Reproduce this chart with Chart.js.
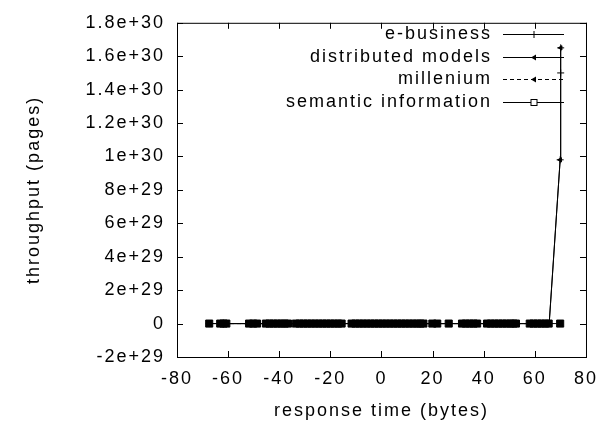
<!DOCTYPE html>
<html>
<head>
<meta charset="utf-8">
<script src="https://cdn.jsdelivr.net/npm/chart.js@4/dist/chart.umd.min.js"></script>
<style>
  body { margin: 0; background: #fff; }
  canvas { display: block; }
</style>
</head>
<body>
<canvas id="grafico" width="609" height="424"></canvas>
<script>
// Datos (aprox.)
const nombresSeries = ['e-business', 'distributed models', 'millenium', 'semantic information'];

const xEbusiness = [-67.4, -36.6, 0, 16.4, 45, 65.6, 69.9, 70.1, 70.1];
const yEbusiness = [0, 0, 0, 0, 0, 0, 9.8e29, 1.5e30, 1.65e30];

const xDistribuidos = [-61, -30, 10, 35, 60, 65.6, 69.9, 70.1];
const yDistribuidos = [0, 0, 0, 0, 0, 0, 9.8e29, 1.65e30];

const xMillenium = [-62, -40, -5, 33, 50, 64];
const yMillenium = [0, 0, 0, 0, 0, 0];

const xSemantica = [-67.4, -63.1, -61.8, -60.7, -51.8, -50.2, -48.7,
  -45.2, -43.8, -42.3, -40.8, -39.3, -37.9, -36.6,
  -33.5, -32, -30.5, -29, -27.5, -26, -24.5, -23, -21.5, -20, -18.5, -17, -15.6,
  -11.7, -10.2, -8.7, -7.2, -5.7, -4.2, -2.7, -1.2, 0.3, 1.8, 3.3, 4.8, 6.3, 7.8,
  9.3, 10.8, 12.3, 13.8, 15.2, 16.4,
  19.9, 21.8, 26.3, 31.5, 33, 34.5, 36, 37.4,
  41.3, 42.8, 44.3, 45.8, 47.3, 48.8, 50.3, 51.6, 52.6,
  58, 59.5, 61, 62.5, 64, 65.4, 69.9];
const ySemantica = xSemantica.map(() => 0);

const ticksX = [-80, -60, -40, -20, 0, 20, 40, 60, 80];
const ticksY = [-2e29, 0, 2e29, 4e29, 6e29, 8e29, 1e30, 1.2e30, 1.4e30, 1.6e30, 1.8e30];

const ESPACIADO = '2px';
const FUENTE = "'Liberation Sans', Arial, sans-serif";

function puntos(xs, ys) {
  return xs.map((x, i) => ({ x: x, y: ys[i] }));
}

Chart.defaults.font.family = FUENTE;
Chart.defaults.font.size = 18;
Chart.defaults.color = '#000';

// Estilos de la leyenda (igual que las series)
const estilosLeyenda = [
  { dash: [], marca: 'cruz' },
  { dash: [], marca: 'flecha' },
  { dash: [4, 3], marca: 'flecha' },
  { dash: [], marca: 'cuadro' }
];

function dibujarMarca(ctx, tipo, x, y) {
  ctx.beginPath();
  if (tipo === 'cruz') {
    ctx.moveTo(x, y - 3.5); ctx.lineTo(x, y + 3.5);
    ctx.moveTo(x - 3.5, y); ctx.lineTo(x + 3.5, y);
    ctx.stroke();
  } else if (tipo === 'flecha') {
    ctx.moveTo(x - 3, y); ctx.lineTo(x + 2, y - 3); ctx.lineTo(x + 2, y + 3); ctx.closePath();
    ctx.fill();
  } else {
    ctx.fillStyle = '#fff';
    ctx.fillRect(x - 3, y - 3, 6, 6);
    ctx.strokeRect(x - 3, y - 3, 6, 6);
  }
}

const marcoPlugin = {
  id: 'marco',
  beforeUpdate(chart) { chart.ctx.letterSpacing = ESPACIADO; },
  beforeLayout(chart) { chart.ctx.letterSpacing = ESPACIADO; },
  beforeDraw(chart) {
    const ctx = chart.ctx;
    ctx.letterSpacing = ESPACIADO;
    ctx.save();
    ctx.fillStyle = '#fff';
    ctx.fillRect(0, 0, chart.width, chart.height);
    ctx.restore();
  },
  afterDraw(chart) {
    const { ctx, chartArea: a, scales: { x, y } } = chart;
    ctx.save();
    ctx.strokeStyle = '#000';
    ctx.fillStyle = '#000';
    ctx.lineWidth = 1;
    ctx.strokeRect(a.left + 0.5, a.top + 0.5, a.right - a.left, a.bottom - a.top);

    // marcas de los ejes, hacia dentro y en espejo
    ctx.beginPath();
    ticksX.forEach(v => {
      const px = Math.round(x.getPixelForValue(v)) + 0.5;
      ctx.moveTo(px, a.bottom); ctx.lineTo(px, a.bottom - 6);
      ctx.moveTo(px, a.top); ctx.lineTo(px, a.top + 6);
    });
    ticksY.forEach(v => {
      const py = Math.round(y.getPixelForValue(v)) + 0.5;
      ctx.moveTo(a.left, py); ctx.lineTo(a.left + 6, py);
      ctx.moveTo(a.right, py); ctx.lineTo(a.right - 6, py);
    });
    ctx.stroke();

    // leyenda estilo gnuplot
    const filas = [34, 57, 79, 102];
    ctx.font = '18px ' + FUENTE;
    ctx.letterSpacing = ESPACIADO;
    ctx.textAlign = 'right';
    ctx.textBaseline = 'middle';
    nombresSeries.forEach((nombre, i) => {
      const fy = filas[i];
      ctx.fillStyle = '#000';
      ctx.fillText(nombre, 492, fy);
      ctx.setLineDash(estilosLeyenda[i].dash);
      ctx.beginPath();
      ctx.moveTo(503, fy + 0.5); ctx.lineTo(564, fy + 0.5);
      ctx.stroke();
      ctx.setLineDash([]);
      dibujarMarca(ctx, estilosLeyenda[i].marca, 534, fy + 0.5);
    });
    ctx.restore();
  }
};

const ctx = document.getElementById('grafico').getContext('2d');

new Chart(ctx, {
  type: 'scatter',
  data: {
    datasets: [
      {
        label: nombresSeries[0],
        data: puntos(xEbusiness, yEbusiness),
        showLine: true,
        borderColor: '#000',
        borderWidth: 1,
        pointStyle: 'cross',
        pointRadius: 3.5,
        pointBorderColor: '#000',
        pointBorderWidth: 1
      },
      {
        label: nombresSeries[1],
        data: puntos(xDistribuidos, yDistribuidos),
        showLine: true,
        borderColor: '#000',
        borderWidth: 1,
        pointStyle: 'triangle',
        rotation: 270,
        pointRadius: 2.5,
        pointBackgroundColor: '#000',
        pointBorderColor: '#000',
        pointBorderWidth: 1
      },
      {
        label: nombresSeries[2],
        data: puntos(xMillenium, yMillenium),
        showLine: true,
        borderColor: '#000',
        borderWidth: 1,
        borderDash: [4, 3],
        pointStyle: 'triangle',
        rotation: 270,
        pointRadius: 2.5,
        pointBackgroundColor: '#000',
        pointBorderColor: '#000',
        pointBorderWidth: 1
      },
      {
        label: nombresSeries[3],
        data: puntos(xSemantica, ySemantica),
        showLine: true,
        borderColor: '#000',
        borderWidth: 1,
        pointStyle: 'rect',
        pointRadius: 5,
        pointBackgroundColor: '#000',
        pointBorderColor: '#000',
        pointBorderWidth: 1
      }
    ]
  },
  options: {
    responsive: false,
    animation: false,
    layout: { padding: { left: 0, right: 20, top: 17, bottom: 0 } },
    plugins: {
      legend: { display: false },
      tooltip: { enabled: false }
    },
    scales: {
      x: {
        type: 'linear',
        min: -80,
        max: 80,
        afterBuildTicks: scale => { scale.ticks = ticksX.map(v => ({ value: v })); },
        afterFit: scale => { scale.height = 67; },
        grid: { display: false, drawTicks: false },
        border: { display: false },
        ticks: { padding: 11, maxRotation: 0, autoSkip: false },
        title: { display: true, text: 'response time (bytes)', padding: { top: 0, bottom: 2 } }
      },
      y: {
        type: 'linear',
        min: -2e29,
        max: 1.8e30,
        afterBuildTicks: scale => { scale.ticks = ticksY.map(v => ({ value: v })); },
        afterFit: scale => { scale.width = 177; },
        grid: { display: false, drawTicks: false },
        border: { display: false },
        ticks: {
          padding: 12,
          autoSkip: false,
          callback: v => (v === 0 ? '0' : v.toExponential())
        },
        title: { display: true, text: 'throughput (pages)', padding: { top: 23, bottom: 0 } }
      }
    }
  },
  plugins: [marcoPlugin]
});
</script>
</body>
</html>
